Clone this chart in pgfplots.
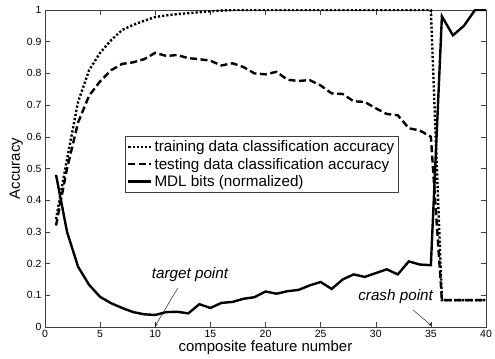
\documentclass[border=0pt]{standalone}
\usepackage{fontspec}
\setmainfont{Liberation Sans}
\usepackage{pgfplots}
\pgfplotsset{compat=1.18}
\begin{document}
\begin{tikzpicture}[x=1bp,y=1bp]
\begin{axis}[
  at={(0,0)}, anchor=south west,
  scale only axis,
  width=441bp, height=317bp,
  xmin=0, xmax=40, ymin=0, ymax=1,
  xtick={0,5,...,40},
  ytick={0,0.1,0.2,0.3,0.4,0.5,0.6,0.7,0.8,0.9,1},
  yticklabels={0,0.1,0.2,0.3,0.4,0.5,0.6,0.7,0.8,0.9,1},
  tick align=inside,
  major tick length=5bp,
  axis line style={black!75},
  every tick/.style={black!75},
  tick label style={font=\fontsize{10.5}{12}\selectfont},
  /pgf/number format/assume math mode=true,
  xlabel={composite feature number},
  ylabel={Accuracy},
  label style={font=\fontsize{15}{17}\selectfont},
  xlabel style={yshift=4bp},
  ylabel style={yshift=-3bp},
  legend cell align=left,
  legend style={at={(axis cs:7.25,0.6025)}, anchor=north west,
    font=\fontsize{15.3}{17}\selectfont, draw=black!75,
    inner xsep=2bp, inner ysep=2.5bp, row sep=0.8bp},
  legend image code/.code={\draw[#1] (0bp,0bp) -- (23bp,0bp);},
]
\addplot[black, line width=2.4bp, dash pattern=on 2.2bp off 2bp] coordinates {
(1,0.34) (2,0.53) (3,0.71) (4,0.81) (5,0.865) (6,0.905) (7,0.937) (8,0.953)
(9,0.966) (10,0.978) (11,0.983) (12,0.987) (13,0.99) (14,0.993) (15,0.996)
(16,0.998) (17,1) (18,1) (19,1) (20,1) (21,1) (22,1) (23,1) (24,1) (25,1)
(26,1) (27,1) (28,1) (29,1) (30,1) (31,1) (32,1) (33,1) (34,1) (35,1)
(36,0.085) (37,0.085) (38,0.085) (39,0.085) (40,0.085)};
\addlegendentry{training data classification accuracy}
\addplot[black, line width=2.4bp, dash pattern=on 7bp off 3.5bp] coordinates {
(1,0.32) (2,0.50) (3,0.645) (4,0.73) (5,0.775) (6,0.81) (7,0.83) (8,0.835)
(9,0.845) (10,0.865) (11,0.855) (12,0.858) (13,0.848) (14,0.845) (15,0.84)
(16,0.825) (17,0.832) (18,0.82) (19,0.80) (20,0.797) (21,0.805) (22,0.78)
(23,0.776) (24,0.779) (25,0.762) (26,0.737) (27,0.735) (28,0.712) (29,0.71)
(30,0.69) (31,0.672) (32,0.668) (33,0.627) (34,0.62) (35,0.60)
(36,0.085) (37,0.085) (38,0.085) (39,0.085) (40,0.085)};
\addlegendentry{testing data classification accuracy}
\addplot[black, line width=2.4bp] coordinates {
(1,0.48) (2,0.30) (3,0.19) (4,0.133) (5,0.095) (6,0.075) (7,0.06) (8,0.047)
(9,0.04) (10,0.038) (11,0.047) (12,0.048) (13,0.043) (14,0.072) (15,0.06)
(16,0.076) (17,0.079) (18,0.089) (19,0.094) (20,0.112) (21,0.105) (22,0.113)
(23,0.117) (24,0.131) (25,0.142) (26,0.12) (27,0.15) (28,0.166) (29,0.158)
(30,0.17) (31,0.182) (32,0.166) (33,0.207) (34,0.197) (35,0.195)
(36,0.98) (37,0.92) (38,0.95) (39,1) (40,1)};
\addlegendentry{MDL bits (normalized)}
\node[font=\fontsize{15.3}{17}\selectfont\itshape] at (axis cs:13.15,0.167) {target point};
\draw[-stealth, thin] (axis cs:12.03,0.122) -- (axis cs:9.97,0.002);
\node[font=\fontsize{15.3}{17}\selectfont\itshape] at (axis cs:31.8,0.0956) {crash point};
\draw[-stealth, thin] (axis cs:33.39,0.0536) -- (axis cs:35.06,0.004);
\end{axis}
\pgfresetboundingbox
\path (-45bp,-32bp) rectangle (450bp,327bp);
\end{tikzpicture}
\end{document}
